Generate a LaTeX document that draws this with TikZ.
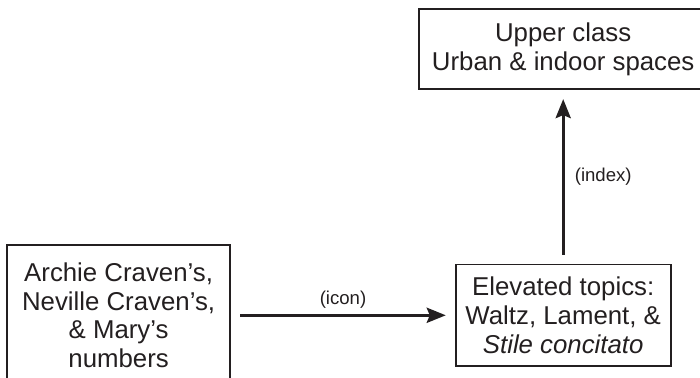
\documentclass[tikz,border=0pt]{standalone}
\usepackage{fontspec}
\setmainfont{Liberation Sans}
\usetikzlibrary{positioning}
\usetikzlibrary{arrows.meta}
\definecolor{ink}{HTML}{231F20}
\tikzset{node distance=111.8pt,
    signbox/.style={
        draw=ink,
        line width=0.9pt,
        align=center,
        inner sep=0pt,
        text=ink,
        font=\fontsize{12.9}{14.4}\selectfont},
    gloss/.style={
        text=ink,
        inner sep=2.5pt,
        font=\fontsize{9.3}{10}\selectfont},
    every edge/.style={
        draw=ink,
        ->,>={Stealth[length=9.5pt,width=7.5pt,inset=1.5pt]},
        line width=1.6pt,
        shorten >=4.5pt,
        shorten <=4.5pt}}

\begin{document}
\begin{tikzpicture}[x=0.5pt,y=0.5pt]
        \useasboundingbox (0,0) rectangle (700,378);
        \node[signbox,minimum width=107.5pt,minimum height=50.7pt] (topics) at (563.2,62.7) {Elevated topics:\\Waltz, Lament, \&\\\textit{Stile concitato}};
        % top box runs on past the right edge
        \node[signbox,minimum width=144pt,minimum height=40pt,above=86.8pt of topics] (upper) {Upper class\\Urban \& indoor spaces};
        \node[signbox,minimum width=111.7pt,minimum height=70pt,left=of topics] (numbers) {Archie Craven's,\\Neville Craven's,\\\& Mary's\\numbers};

        \draw (numbers) edge node[gloss,above] {(icon)} (topics);
        \draw (topics) edge node[gloss,right,inner sep=5pt] {(index)} (upper);
    \end{tikzpicture}
\end{document}
